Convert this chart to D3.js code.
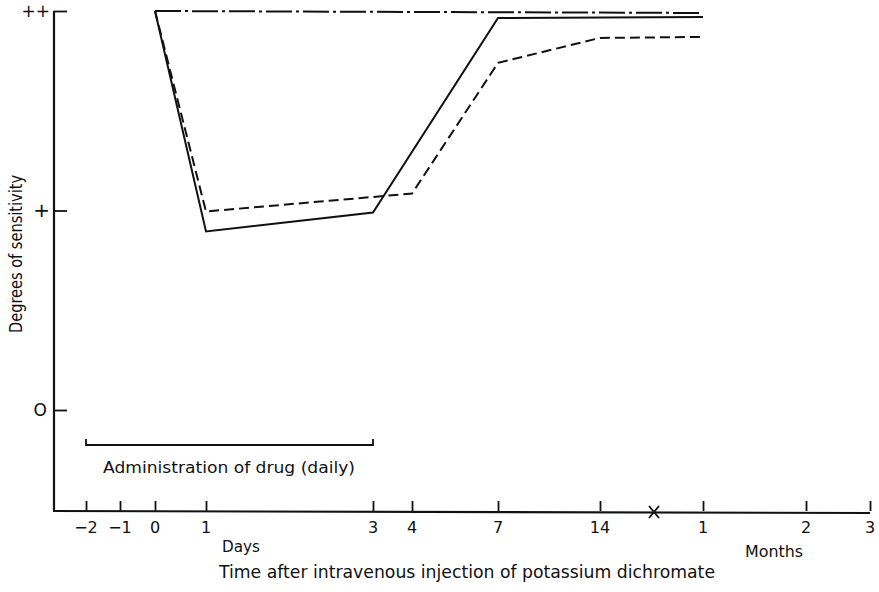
<!DOCTYPE html>
<html>
<head>
<meta charset="utf-8">
<script src="https://cdn.jsdelivr.net/npm/d3@7"></script>
<style>
  html, body { margin: 0; padding: 0; background: #fff; }
  svg { display: block; }
  text { font-family: "DejaVu Sans", "Liberation Sans", sans-serif; fill: #111; }
</style>
</head>
<body>
<svg id="chart" width="879" height="592"></svg>
<script>
// ---------- DATA ----------
const xTickValues = [-2, -1, 0, 1, 3, 4, 7, 14, 30, 60, 90];      // in days (1, 2, 3 months = 30, 60, 90)
const xTickLabels = ["−2", "−1", "0", "1", "3", "4", "7", "14", "1", "2", "3"];
const xBreakValue = 22;                                              // axis break mark between 14 days and 1 month
const yTickValues = [0, 1, 2];
const yTickLabels = ["O", "+", "++"];

const solidX   = [0, 1, 3, 7, 30];
const solidY   = [2, 0.895, 0.99, 1.965, 1.97];
const dashedX  = [0, 1, 4, 7, 14, 30];
const dashedY  = [2, 0.995, 1.085, 1.74, 1.865, 1.87];
const dashDotX = [0, 30];
const dashDotY = [2, 1.99];

const drugStart = -2, drugEnd = 3;
const drugLabel = "Administration of drug (daily)";
const daysLabel = "Days";
const monthsLabel = "Months";
const xTitle = "Time after intravenous injection of potassium dichromate";
const yTitle = "Degrees of sensitivity";

// ---------- LAYOUT ----------
const svg = d3.select("#chart");
const plotLeft = 54, plotTop = 11, plotBottom = 511, plotRight = 870;
// hand-drawn, non-uniform axis: piecewise linear scale
const xDomain = [-2, -1, 0, 1, 3, 4, 7, 14, xBreakValue, 30, 60, 90];
const xRange  = [86, 120, 155, 206, 373, 412, 498, 600, 654, 703, 806, 870];
const x = d3.scaleLinear().domain(xDomain).range(xRange);
const y = d3.scaleLinear().domain([0, 2]).range([410, plotTop]);

const ink = "#111";

// axes lines
svg.append("line").attr("x1", plotLeft).attr("x2", plotLeft).attr("y1", plotTop).attr("y2", plotBottom)
  .attr("stroke", ink).attr("stroke-width", 2.2);
svg.append("line").attr("x1", plotLeft - 1).attr("x2", plotRight).attr("y1", plotBottom).attr("y2", plotBottom + 2)
  .attr("stroke", ink).attr("stroke-width", 2.2);

// x axis ticks (inward) via d3 axis
const xAxis = d3.axisTop(x).tickValues(xTickValues).tickSize(10).tickFormat("");
const gx = svg.append("g").attr("transform", `translate(0,${plotBottom})`).call(xAxis);
gx.select(".domain").remove();
gx.selectAll(".tick line").attr("stroke", ink).attr("stroke-width", 1.8);

// x tick labels
svg.append("g").selectAll("text").data(xTickValues).join("text")
  .attr("x", d => x(d)).attr("y", 533)
  .attr("text-anchor", "middle").attr("font-size", 16)
  .text((d, i) => xTickLabels[i]);

// axis break mark
const bx = x(xBreakValue);
svg.append("path")
  .attr("d", `M${bx - 5},${plotBottom - 5}L${bx + 5},${plotBottom + 7}M${bx + 5},${plotBottom - 5}L${bx - 5},${plotBottom + 7}`)
  .attr("stroke", ink).attr("stroke-width", 1.8).attr("fill", "none");

// y axis ticks (inward)
const yAxis = d3.axisRight(y).tickValues(yTickValues).tickSize(13).tickFormat("");
const gy = svg.append("g").attr("transform", `translate(${plotLeft},0)`).call(yAxis);
gy.select(".domain").remove();
gy.selectAll(".tick line").attr("stroke", ink).attr("stroke-width", 1.8);

const yLabelSize = [17, 20, 17];
svg.append("g").selectAll("text").data(yTickValues).join("text")
  .attr("x", d => d === 0 ? 47 : 50).attr("y", d => y(d)).attr("dy", "0.34em")
  .attr("text-anchor", "end").attr("font-size", (d, i) => yLabelSize[i])
  .text((d, i) => yTickLabels[i]);

// series
const line = d3.line().x(d => x(d[0])).y(d => y(d[1]));
const zip = (a, b) => a.map((v, i) => [v, b[i]]);

svg.append("path").datum(zip(dashDotX, dashDotY)).attr("d", line)
  .attr("fill", "none").attr("stroke", ink).attr("stroke-width", 2)
  .attr("stroke-dasharray", "26,4,3,4");
svg.append("path").datum(zip(dashedX, dashedY)).attr("d", line)
  .attr("fill", "none").attr("stroke", ink).attr("stroke-width", 2)
  .attr("stroke-dasharray", "10,5");
svg.append("path").datum(zip(solidX, solidY)).attr("d", line)
  .attr("fill", "none").attr("stroke", ink).attr("stroke-width", 2)
  .attr("stroke-linejoin", "miter");

// drug administration bracket
const by = 445;
svg.append("path")
  .attr("d", `M${x(drugStart)},${by - 6}V${by}H${x(drugEnd)}V${by - 6}`)
  .attr("fill", "none").attr("stroke", ink).attr("stroke-width", 1.8);
svg.append("text").attr("x", 103).attr("y", 473).attr("font-size", 16)
  .attr("textLength", 252).attr("lengthAdjust", "spacingAndGlyphs")
  .text(drugLabel);

// unit labels
svg.append("text").attr("x", 222).attr("y", 552).attr("font-size", 16)
  .attr("textLength", 38).attr("lengthAdjust", "spacingAndGlyphs").text(daysLabel);
svg.append("text").attr("x", 745).attr("y", 557).attr("font-size", 16)
  .attr("textLength", 58).attr("lengthAdjust", "spacingAndGlyphs").text(monthsLabel);

// axis titles
svg.append("text").attr("x", 219).attr("y", 578).attr("font-size", 18)
  .attr("textLength", 496).attr("lengthAdjust", "spacingAndGlyphs")
  .text(xTitle);
svg.append("text").attr("transform", `translate(22,254) rotate(-90)`)
  .attr("x", -79).attr("y", 0).attr("font-size", 17.5)
  .attr("textLength", 158).attr("lengthAdjust", "spacingAndGlyphs")
  .text(yTitle);
</script>
</body>
</html>
